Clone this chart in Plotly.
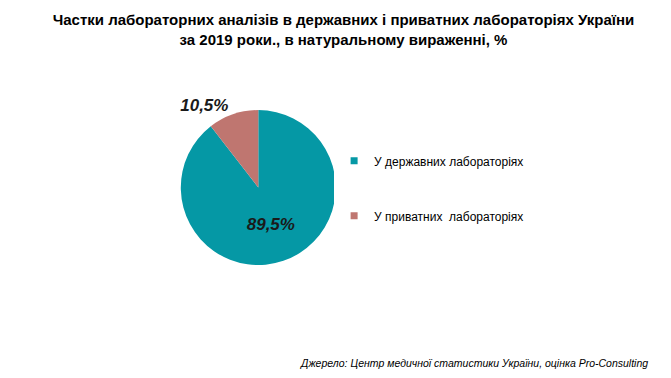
import plotly.graph_objects as go

labels = ["У державних лабораторіях", "У приватних  лабораторіях"]
values = [89.5, 10.5]
text_labels = ["89,5%", "10,5%"]
colors = ["#0598A5", "#BF7670"]

fig = go.Figure()
fig.add_trace(go.Pie(
    labels=labels, values=values, text=text_labels,
    textinfo="text", texttemplate="<b><i>%{text}</i></b>",
    textposition=["inside", "outside"],
    textfont=dict(family="Liberation Sans, Arial", size=17, color="#1a1a1a"),
    marker=dict(colors=colors, line=dict(width=0)),
    sort=False, direction="clockwise", rotation=0,
    domain=dict(x=[0.188, 0.558], y=[0.32, 0.73]),
    showlegend=False, hoverinfo="label+percent",
))
for lab, col in zip(labels, colors):
    fig.add_trace(go.Scatter(
        x=[None], y=[None], mode="markers", name=lab, legendgroup=lab,
        marker=dict(symbol="square", size=7, color=col),
    ))

fig.update_layout(
    width=671, height=378,
    paper_bgcolor="white", plot_bgcolor="white",
    margin=dict(l=0, r=0, t=0, b=0),
    xaxis=dict(visible=False), yaxis=dict(visible=False),
    title=dict(
        text="Частки лабораторних аналізів в державних і приватних лабораторіях України<br>за 2019 роки., в натуральному вираженні, %",
        x=0.5, xanchor="center", y=0.955, yanchor="top",
        font=dict(family="Liberation Sans Narrow, Arial Narrow, Liberation Sans", size=15, color="black", weight="bold"),
    ),
    legend=dict(
        x=0.486, y=0.634, xanchor="left", yanchor="top",
        font=dict(family="Liberation Sans, Arial", size=12, color="black"),
        tracegroupgap=36, traceorder="grouped", itemsizing="trace",
    ),
    annotations=[dict(
        text="<i>Джерело: Центр медичної статистики України, оцінка Pro-Consulting</i>",
        x=0.957, y=0.06, xref="paper", yref="paper", xanchor="right", yanchor="middle",
        showarrow=False, font=dict(family="Liberation Sans, Arial", size=10.5, color="black"),
    )],
)
fig.write_html("out.html")
